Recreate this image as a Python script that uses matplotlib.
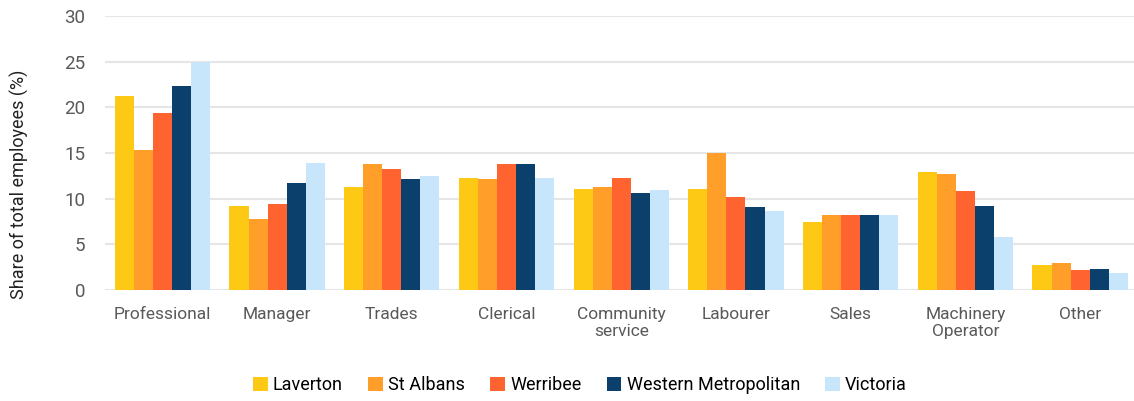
import matplotlib.pyplot as plt
import numpy as np

plt.rcParams['font.family'] = ['Roboto', 'DejaVu Sans']

categories = ['Professional', 'Manager', 'Trades', 'Clerical', 'Community\nservice',
              'Labourer', 'Sales', 'Machinery\nOperator', 'Other']
series = ['Laverton', 'St Albans', 'Werribee', 'Western Metropolitan', 'Victoria']
laverton = [21.2, 9.2, 11.3, 12.3, 11.1, 11.1, 7.4, 12.9, 2.7]
st_albans = [15.3, 7.8, 13.8, 12.2, 11.3, 15.0, 8.2, 12.7, 3.0]
werribee = [19.4, 9.4, 13.2, 13.8, 12.3, 10.2, 8.2, 10.8, 2.2]
western_metro = [22.3, 11.7, 12.2, 13.8, 10.6, 9.1, 8.2, 9.2, 2.3]
victoria = [25.0, 13.9, 12.5, 12.3, 10.9, 8.7, 8.2, 5.8, 1.9]
colors = ['#FEC914', '#FF9E28', '#FF6430', '#0C406C', '#C8E6FB']

data = [laverton, st_albans, werribee, western_metro, victoria]

fig = plt.figure(figsize=(11.34, 4.01), dpi=100)
ax = fig.add_axes([105/1134, 1-290/401, 1-105/1134, 274/401])

x = np.arange(len(categories))
w = 0.166
for i, (vals, name, c) in enumerate(zip(data, series, colors)):
    ax.bar(x + (i-2)*w, vals, w, color=c, label=name, zorder=3)

ax.set_ylim(0, 30)
ax.set_xlim(-0.5, 8.47)
ax.set_yticks(range(0, 31, 5))
ax.set_xticks(x)
ax.set_xticklabels(categories)
ax.grid(axis='y', color='#e6e6e6', linewidth=1.5, zorder=0)
for s in ax.spines.values():
    s.set_visible(False)
ax.tick_params(length=0, colors='#595959', labelsize=12.5)
ax.tick_params(axis='y', pad=14, labelsize=13.5)
ax.tick_params(axis='x', pad=12)
ax.set_ylabel('Share of total employees (%)', fontsize=13, color='#222222')
ax.yaxis.set_label_coords(-0.074, 0.385)

fig.legend(loc='center', bbox_to_anchor=(580/1134, 1-385/401), ncol=5, frameon=False,
           fontsize=13, handlelength=0.8, handleheight=0.8, handletextpad=0.3,
           columnspacing=1.4)

fig.savefig('out.png', dpi=100)
